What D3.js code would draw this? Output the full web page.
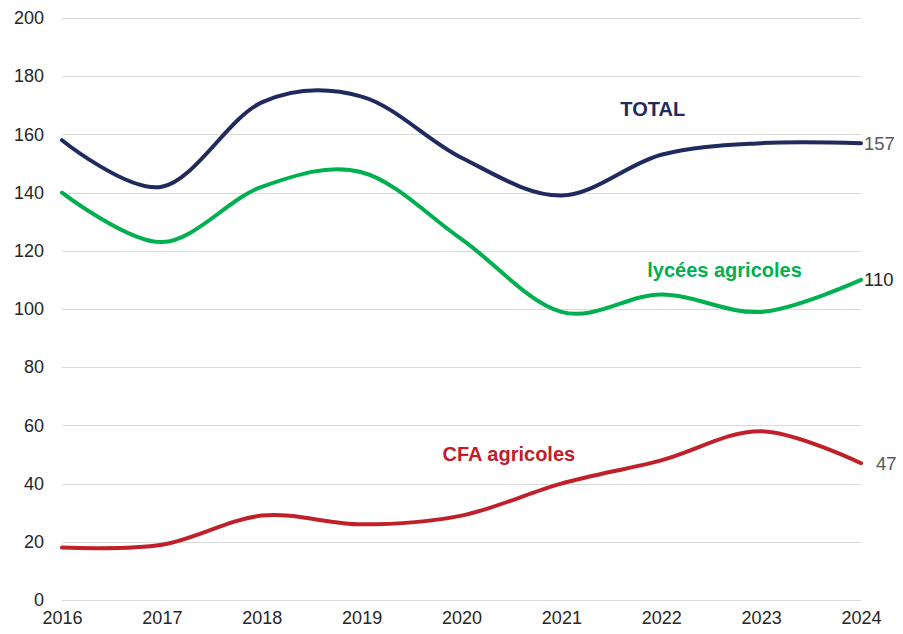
<!DOCTYPE html>
<html>
<head>
<meta charset="utf-8">
<script src="https://cdn.jsdelivr.net/npm/d3@7"></script>
<style>
  html, body { margin: 0; padding: 0; background: #fff; }
  svg { display: block; font-family: "Liberation Sans", Arial, sans-serif; }
</style>
</head>
<body>
<svg id="chart" width="903" height="634"></svg>
<script>
// Years on the horizontal axis
const years = [2016, 2017, 2018, 2019, 2020, 2021, 2022, 2023, 2024];

// Series values
const total   = [158, 142, 171, 173, 152, 139, 153, 157, 157];
const lycees  = [140, 123, 142, 147, 124, 99, 105, 99, 110];
const cfa     = [18, 19, 29, 26, 29, 40, 48, 58, 47];

// Y axis ticks
const yTicks = [0, 20, 40, 60, 80, 100, 120, 140, 160, 180, 200];

const series = [
  { name: "TOTAL", values: total, color: "#1f2a5e", endColor: "#595959",
    label: { year: 2021.59, value: 166.4 } },
  { name: "lycées agricoles", values: lycees, color: "#00b050", endColor: "#262626",
    label: { year: 2021.86, value: 111.1 } },
  { name: "CFA agricoles", values: cfa, color: "#c0202a", endColor: "#595959",
    label: { year: 2019.81, value: 47.9 }, endDx: 12 }
];

const W = 903, H = 634;
const margin = { top: 18, right: 42, bottom: 34, left: 62 };

const svg = d3.select("#chart");

const x = d3.scaleLinear()
  .domain([years[0], years[years.length - 1]])
  .range([margin.left, W - margin.right]);

const y = d3.scaleLinear()
  .domain([0, 200])
  .range([H - margin.bottom, margin.top]);

// Horizontal grid lines
svg.append("g")
  .selectAll("line")
  .data(yTicks)
  .join("line")
  .attr("x1", x.range()[0])
  .attr("x2", x.range()[1])
  .attr("y1", d => Math.round(y(d)) + 0.5)
  .attr("y2", d => Math.round(y(d)) + 0.5)
  .attr("stroke", "#d9d9d9")
  .attr("stroke-width", 1.2);

// Y axis labels
const yAxis = d3.axisLeft(y).tickValues(yTicks).tickSize(0).tickPadding(18);
svg.append("g")
  .attr("transform", `translate(${margin.left},0)`)
  .call(yAxis)
  .call(g => g.select(".domain").remove())
  .call(g => g.selectAll("text")
    .attr("font-size", "18px")
    .attr("fill", "#262626")
    .attr("font-family", "Liberation Sans, Arial, sans-serif"));

// X axis labels
const xAxis = d3.axisBottom(x).tickValues(years).tickFormat(d3.format("d")).tickSize(0).tickPadding(11);
svg.append("g")
  .attr("transform", `translate(0,${H - margin.bottom})`)
  .call(xAxis)
  .call(g => g.select(".domain").remove())
  .call(g => g.selectAll("text")
    .attr("font-size", "18px")
    .attr("fill", "#262626")
    .attr("font-family", "Liberation Sans, Arial, sans-serif"));

// Smoothed lines
const line = d3.line()
  .x((d, i) => x(years[i]))
  .y(d => y(d))
  .curve(d3.curveCardinal.tension(0));

series.forEach(s => {
  svg.append("path")
    .datum(s.values)
    .attr("d", line)
    .attr("fill", "none")
    .attr("stroke", s.color)
    .attr("stroke-width", 4)
    .attr("stroke-linecap", "round")
    .attr("stroke-linejoin", "round");

  // Value at the last year
  const last = s.values[s.values.length - 1];
  svg.append("text")
    .attr("x", x(years[years.length - 1]) + 3 + (s.endDx || 0))
    .attr("y", y(last))
    .attr("dy", "0.35em")
    .attr("font-size", "18.5px")
    .attr("fill", s.endColor)
    .text(last);

  // Series name
  svg.append("text")
    .attr("x", x(s.label.year))
    .attr("y", y(s.label.value))
    .attr("font-size", "20px")
    .attr("font-weight", "bold")
    .attr("fill", s.color)
    .text(s.name);
});
</script>
</body>
</html>
